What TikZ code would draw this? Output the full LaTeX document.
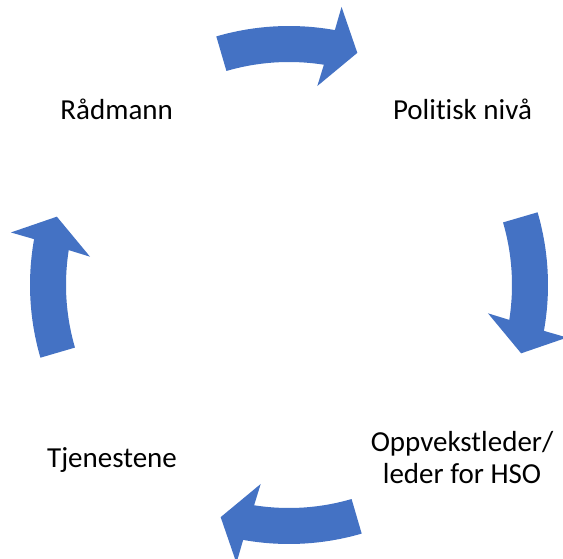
\documentclass[tikz,border=0pt]{standalone}
\usepackage{fontspec}
\setmainfont{Carlito}[Ligatures={NoCommon}]
\tikzset{
  cyclearrow/.style={fill=arrowblue, draw=none},
  label/.style={inner sep=0pt, font=\fontsize{29}{32}\selectfont, text=black}
}
\definecolor{arrowblue}{HTML}{4472C4}
\begin{document}
\begin{tikzpicture}[x=1pt,y=1pt]
\useasboundingbox[fill=white] (0,0) rectangle (563,-559);
\foreach \k in {0,1,2,3}{
  \begin{scope}[shift={(289,-285)}, rotate=-90*\k]
    \fill[cyclearrow] (106.3:259) arc[start angle=106.3, end angle=79.8, radius=259pt]
      -- (79.3:283) -- (73.6:242) -- (81.9:201) -- (81.0:223)
      arc[start angle=81.0, end angle=106.3, radius=223pt] -- cycle;
  \end{scope}
}
\node[label, anchor=base] (radmann) at (116.7,-120) {Rådmann};
\node[label, anchor=base] (politisk) at (462.5,-119.3) {Politisk nivå};
\node[label, anchor=center, align=center] (oppvekst) at (462,-458) {Oppvekstleder/\\leder for HSO};
\node[label, anchor=base] (tjenestene) at (112,-467.3) {Tjenestene};
\end{tikzpicture}
\end{document}
